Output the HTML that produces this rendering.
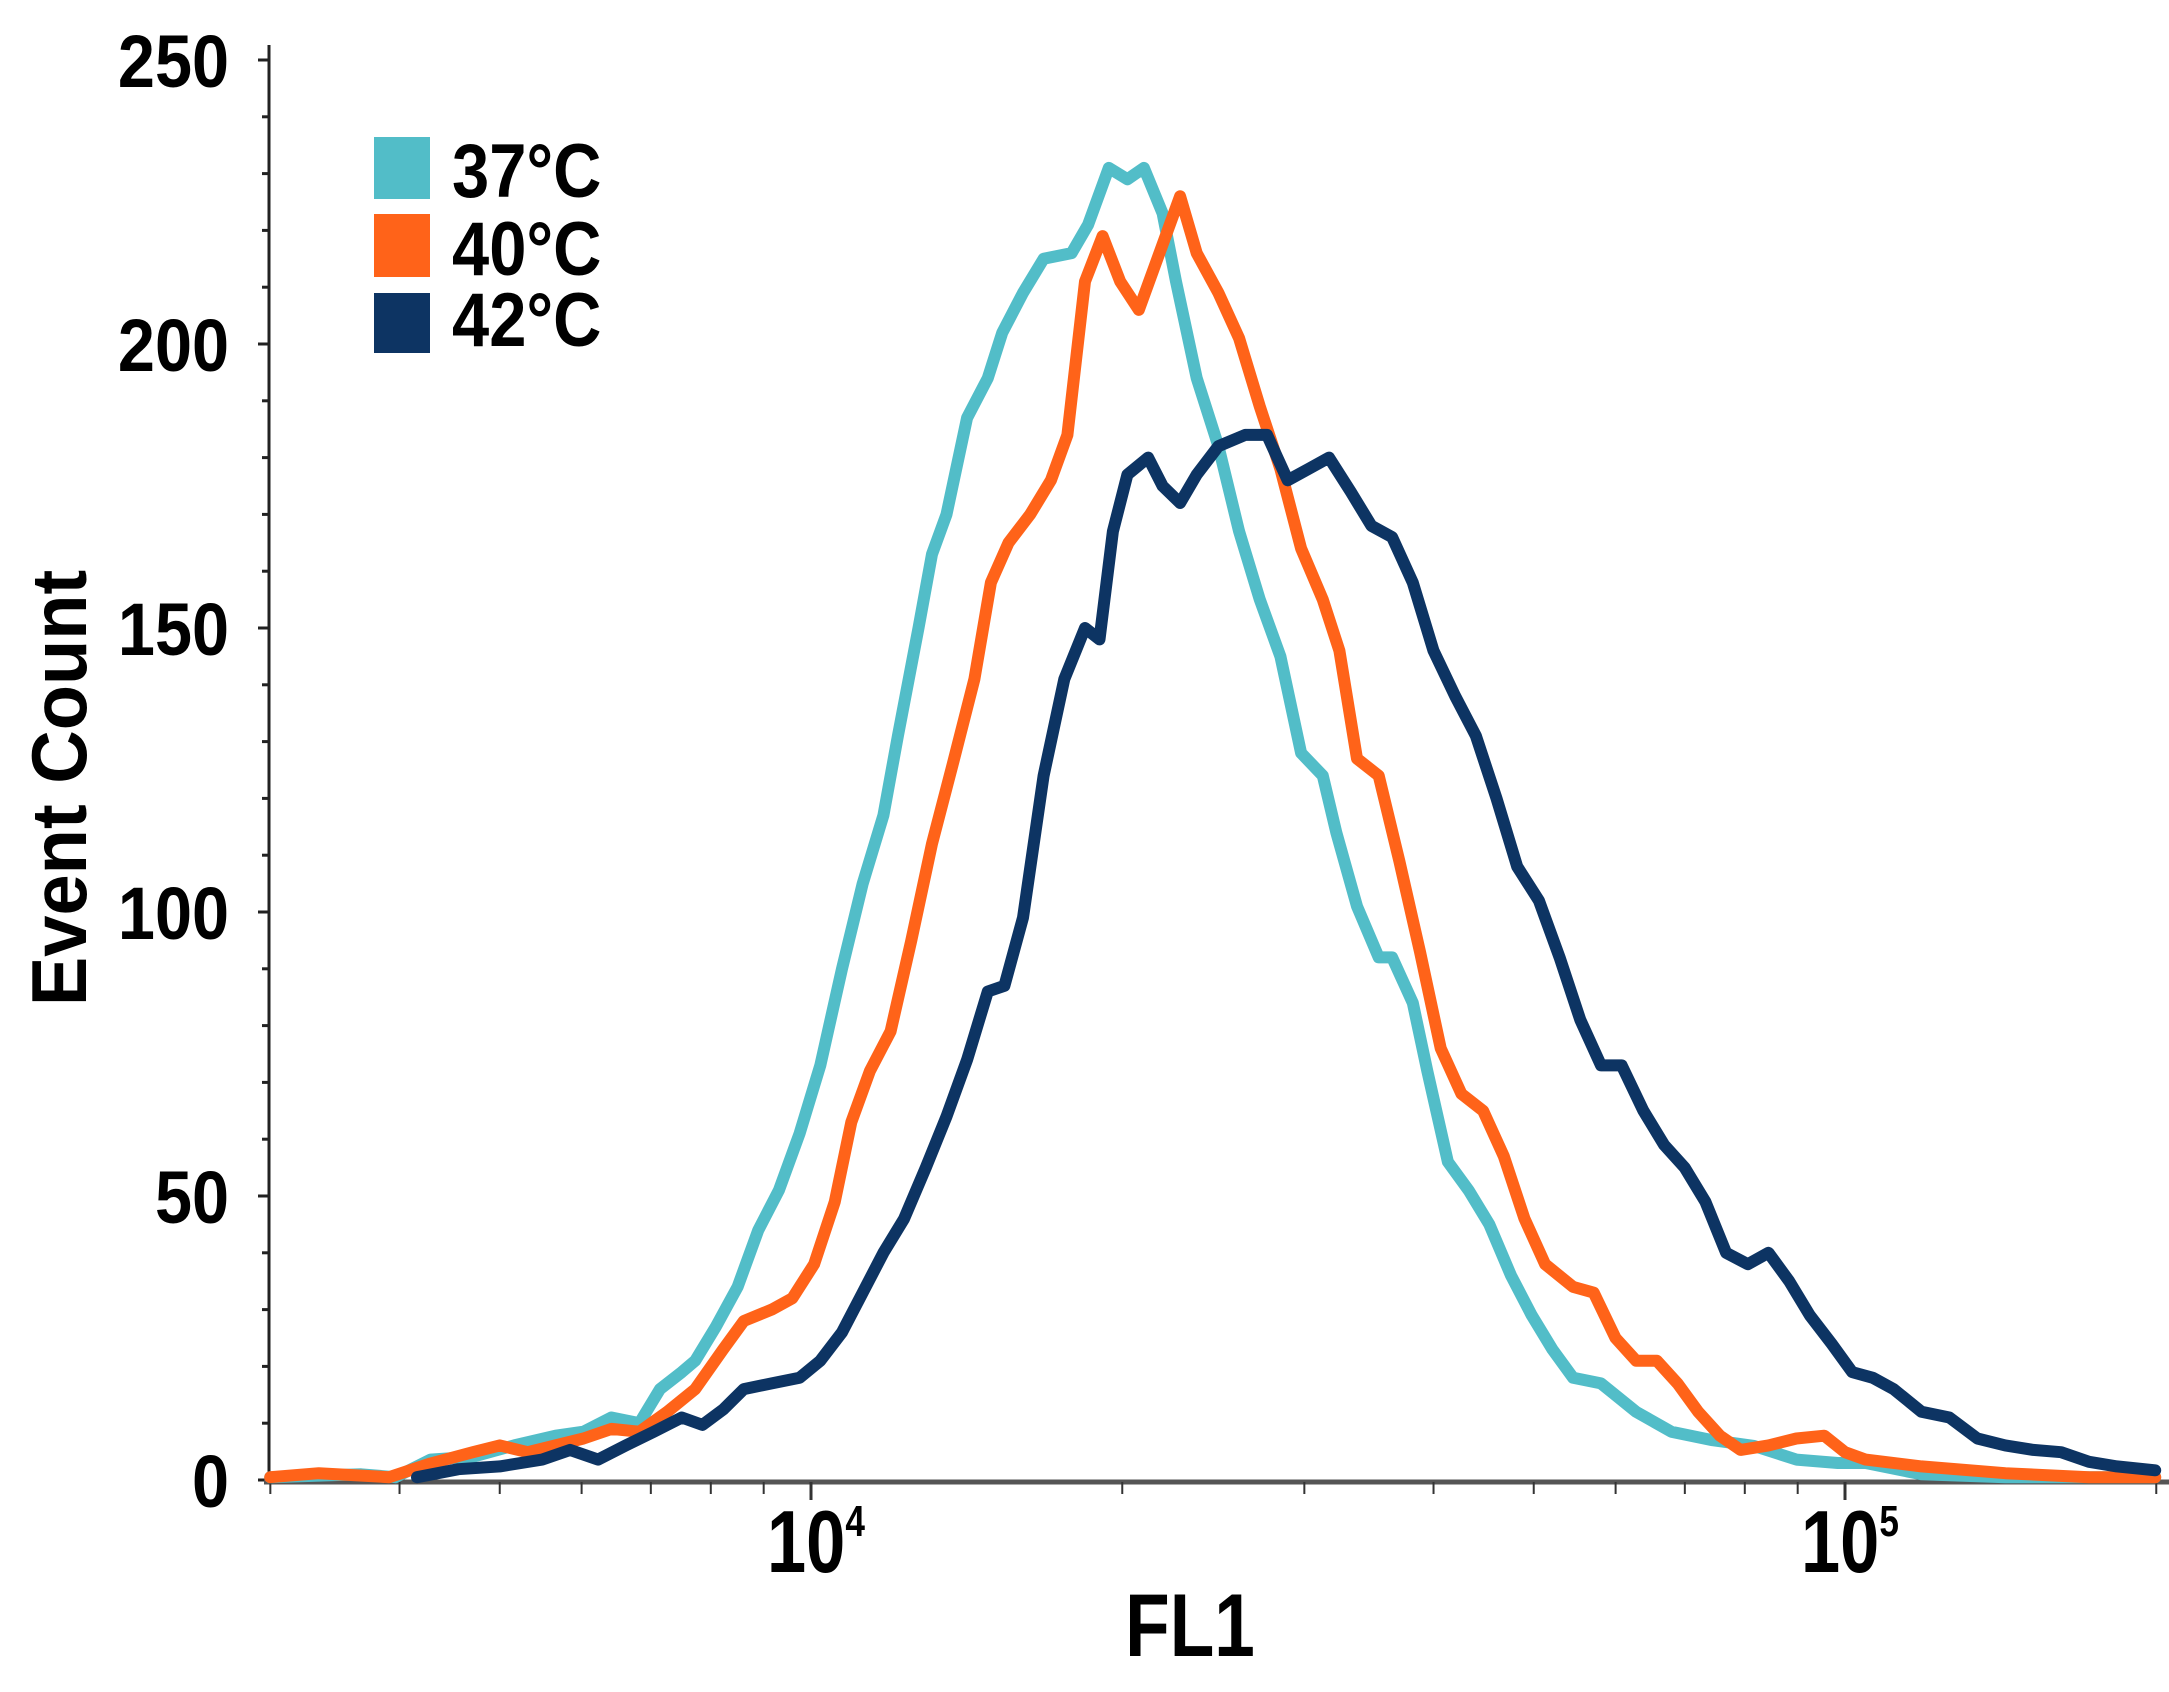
<!DOCTYPE html>
<html><head><meta charset="utf-8"><style>
html,body{margin:0;padding:0;background:#fff;}
svg{display:block;}
text{font-family:"Liberation Sans",Arial,sans-serif;font-weight:bold;fill:#000;}
</style></head><body>
<svg id="chart" width="2169" height="1692" viewBox="0 0 2169 1692" xmlns="http://www.w3.org/2000/svg">
<g id="axes"></g>
<g id="series"></g>
<g id="legend">
  <rect x="374" y="137" width="56" height="62" fill="#52bdc8"/>
  <rect x="374" y="214" width="56" height="63" fill="#ff6319"/>
  <rect x="374" y="293" width="56" height="60" fill="#0d3463"/>
  <text transform="translate(452,197) scale(0.88,1)" font-size="76">37°C</text>
  <text transform="translate(452,275) scale(0.88,1)" font-size="76">40°C</text>
  <text transform="translate(452,346) scale(0.88,1)" font-size="76">42°C</text>
</g>
<text transform="translate(1190,1656) scale(0.82,1)" font-size="89" text-anchor="middle">FL1</text>
<text transform="translate(86,788) rotate(-90) scale(0.95,1)" font-size="78" text-anchor="middle">Event Count</text>
</svg>
<script>
// log10(FL1) positions and event counts for each series
const logX37 = [3.477,3.565,3.598,3.632,3.673,3.713,3.753,3.780,3.807,3.834,3.854,3.875,3.888,3.908,3.929,3.949,3.969,3.989,4.009,4.030,4.050,4.070,4.084,4.104,4.117,4.131,4.151,4.171,4.185,4.205,4.225,4.252,4.268,4.288,4.306,4.322,4.340,4.353,4.373,4.394,4.414,4.434,4.454,4.474,4.495,4.508,4.528,4.549,4.562,4.582,4.596,4.616,4.636,4.656,4.677,4.697,4.717,4.737,4.764,4.798,4.832,4.872,4.912,4.953,4.993,5.020,5.074,5.155,5.300];
const count37 = [0.5,1,0.5,3.6,4.1,6.1,7.8,8.5,11,10,16,19,21,27,34,44,51,61,73,90,105,117,131,150,163,170,187,194,202,209,215,216,221,231,229,231,223,211,194,182,167,155,145,128,124,114,101,92,92,84,72,56,51,45,36,29,23,18,17,12,8.5,7,6,3.6,3,3,1,0.5,0.5];
const logX40 = [3.477,3.524,3.592,3.632,3.673,3.699,3.726,3.780,3.807,3.834,3.861,3.888,3.915,3.935,3.962,3.982,4.003,4.023,4.039,4.057,4.077,4.097,4.117,4.137,4.158,4.174,4.191,4.212,4.232,4.248,4.265,4.282,4.299,4.317,4.333,4.357,4.373,4.394,4.414,4.434,4.454,4.474,4.495,4.511,4.528,4.549,4.569,4.589,4.609,4.629,4.650,4.670,4.690,4.710,4.737,4.757,4.778,4.798,4.818,4.838,4.858,4.879,4.899,4.926,4.953,4.980,5.000,5.020,5.074,5.155,5.236,5.300];
const count40 = [0.5,1.2,0.5,2.9,4.9,6.1,4.9,7.3,9,8.5,12,16,23,28,30,32,38,49,63,72,79,95,112,126,141,158,165,170,176,184,211,219,211,206,214,226,216,209,201,189,178,164,155,146,127,124,109,93,76,68,65,57,46,38,34,33,25,21,21,17,12,7.8,5.3,6.1,7.3,7.8,4.9,3.6,2.4,1.2,0.5,0.5];
const logX42 = [3.619,3.659,3.699,3.740,3.767,3.794,3.821,3.848,3.875,3.895,3.915,3.935,3.962,3.989,4.009,4.030,4.050,4.070,4.090,4.111,4.131,4.151,4.171,4.187,4.205,4.225,4.245,4.265,4.279,4.292,4.306,4.326,4.340,4.357,4.373,4.394,4.420,4.441,4.461,4.481,4.501,4.522,4.542,4.562,4.582,4.602,4.623,4.643,4.663,4.683,4.704,4.724,4.744,4.764,4.784,4.805,4.825,4.845,4.865,4.885,4.906,4.926,4.946,4.966,4.987,5.007,5.027,5.047,5.074,5.101,5.128,5.155,5.182,5.209,5.236,5.263,5.300];
const count42 = [0.5,1.9,2.4,3.6,5.3,3.6,6.1,8.5,11,9.7,12.4,16,17,18,21,26,33,40,46,55,64,74,86,87,99,124,141,150,148,167,177,180,175,172,177,182,184,184,176,178,180,174,168,166,158,146,138,131,120,108,102,92,81,73,73,65,59,55,49,40,38,40,35,29,24,19,18,16,12,11,7.3,6.1,5.3,4.9,3.2,2.4,1.7];
const yTicks = [0,50,100,150,200,250];
const yTickLabels = ["0","50","100","150","200","250"];
const xMajor = [4,5];
const xMajorExp = ["4","5"];

const NS = "http://www.w3.org/2000/svg";
const xScale = l => 811 + (l - 4) * 1034;
const yScale = c => 1480 - c * 5.68;
function mk(tag, attrs, parent) {
  const e = document.createElementNS(NS, tag);
  for (const k in attrs) e.setAttribute(k, attrs[k]);
  parent.appendChild(e);
  return e;
}
const axes = document.getElementById('axes');
const yAxis = mk('line', {x1:269, y1:45, x2:269, y2:1480, stroke:'#222', 'stroke-width':3}, axes);


for (let v = 0; v <= 250; v += 10) {
  const t = mk('line', {x1: v % 50 === 0 ? 258 : 262, y1: yScale(v), x2: 269, y2: yScale(v), stroke:'#222', 'stroke-width':3}, axes);
  
  
}
yTicks.forEach((v, i) => {
  const t = mk('text', {transform:`translate(229,${yScale(v)+27}) scale(0.9,1)`, 'font-size':74, 'text-anchor':'end'}, axes);
  t.textContent = yTickLabels[i];
  
  
});
const xAxis = mk('line', {x1:264, y1:1482, x2:2169, y2:1482, stroke:'#555', 'stroke-width':5}, axes);


for (let d = 3; d <= 5; d++) {
  for (let m = 1; m <= 9; m++) {
    const l = d + Math.log10(m);
    const px = xScale(l);
    if (px < 266 || px > 2168) continue;
    const t = mk('line', {x1:px, y1:1482, x2:px, y2: m === 1 ? 1500 : 1494, stroke:'#333', 'stroke-width': m === 1 ? 3 : 2}, axes);
    
    
  }
}
xMajor.forEach((l, i) => {
  const g = mk('g', {transform:`translate(${xScale(l)-44},1572) scale(0.8,1)`}, axes);
  
  
  const t = mk('text', {x:0, y:0, 'font-size':88}, g);
  t.textContent = '10';
  const s = mk('text', {x:98, y:-36, 'font-size':44}, g);
  s.textContent = xMajorExp[i];
});
const seriesG = document.getElementById('series');
function drawSeries(xs, ys, color, name) {
  const pts = xs.map((l, i) => `${xScale(l).toFixed(1)},${yScale(ys[i]).toFixed(1)}`).join(' ');
  const p = mk('polyline', {points: pts, fill:'none', stroke: color, 'stroke-width':12, 'stroke-linejoin':'round', 'stroke-linecap':'round'}, seriesG);
  
  
}
drawSeries(logX37, count37, '#52bdc8', 'series-37c');
drawSeries(logX40, count40, '#ff6319', 'series-40c');
drawSeries(logX42, count42, '#0d3463', 'series-42c');
</script>
</body></html>
